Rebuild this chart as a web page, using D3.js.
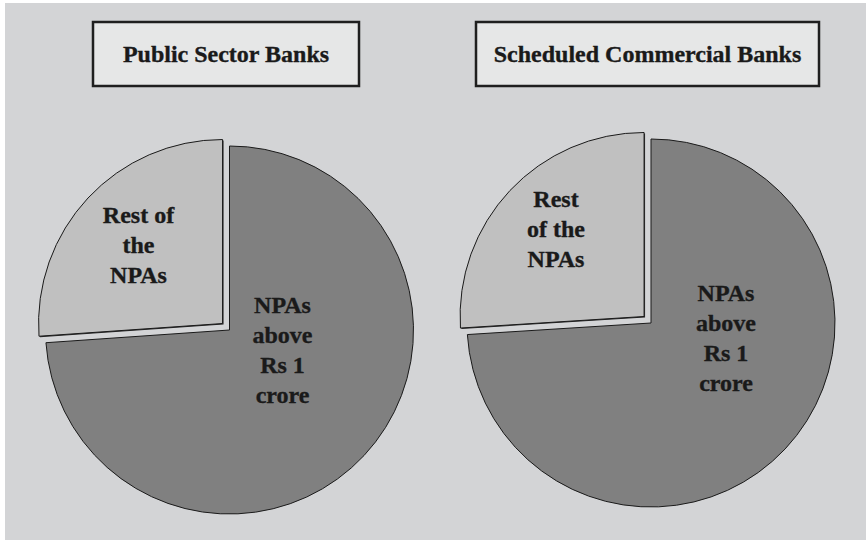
<!DOCTYPE html>
<html lang="en">
  <head>
    <meta charset="utf-8"/>
    <style>
      body {
        margin: 0;
        background: #fff;
      }
      .title,
      .slice-label {
        font-family: "Liberation Serif", "Times New Roman", Tinos, serif;
        font-weight: bold;
        font-size: 24px;
        fill: #1a1a1a;
        stroke: #1a1a1a;
        stroke-width: 0.35px;
      }
    </style>
    <script src="https://cdn.jsdelivr.net/npm/d3@7"></script>
  </head>
  <body>
    <script type="text/javascript">
      // data (share of gross NPAs, %)
      var bankGroups = ["Public Sector Banks", "Scheduled Commercial Banks"];
      var sliceNames = ["NPAs above Rs 1 crore", "Rest of the NPAs"];
      var psbShares = [73.9, 26.1];
      var scbShares = [74.0, 26.0];

      // how the labels break into lines
      var psbLabels = [["NPAs", "above", "Rs 1", "crore"], ["Rest of", "the", "NPAs"]];
      var scbLabels = [["NPAs", "above", "Rs 1", "crore"], ["Rest", "of the", "NPAs"]];

      var w = 866;
      var h = 540;
      var radius = 184;
      var explode = 9.5;
      var lineGap = 30;

      var svg = d3.select("body")
                  .append("svg")
                  .attr("width", w)
                  .attr("height", h);

      // grey panel
      svg.append("rect")
         .attr("x", 5)
         .attr("y", 3)
         .attr("width", w - 5)
         .attr("height", h - 3)
         .attr("fill", "#d3d4d6");

      var pies = [
        {title: bankGroups[0], values: psbShares, labels: psbLabels,
         cx: 229.5, cy: 330, box: [93, 22, 266, 64],
         labelPos: [[53, -17], [-91, -107]]},
        {title: bankGroups[1], values: scbShares, labels: scbLabels,
         cx: 651, cy: 323, box: [476, 22, 343, 64],
         labelPos: [[75, -22], [-95, -116]]}
      ];

      var colors = d3.scaleOrdinal()
                     .domain(sliceNames)
                     .range(["#808080", "#c0c0c0"]);

      var pie = d3.pie()
                  .sort(null)
                  .value(function(d) { return d; });

      var arc = d3.arc()
                  .innerRadius(0)
                  .outerRadius(radius);

      pies.forEach(function(p) {
        // title box
        svg.append("rect")
           .attr("x", p.box[0])
           .attr("y", p.box[1])
           .attr("width", p.box[2])
           .attr("height", p.box[3])
           .attr("fill", "#e6e7e7")
           .attr("stroke", "#1f1f1f")
           .attr("stroke-width", 2.5);

        svg.append("text")
           .attr("class", "title")
           .attr("x", p.box[0] + p.box[2] / 2)
           .attr("y", 62)
           .attr("text-anchor", "middle")
           .text(p.title);

        var g = svg.append("g")
                   .attr("transform", "translate(" + p.cx + "," + p.cy + ")");

        var arcs = pie(p.values);

        arcs.forEach(function(d, i) {
          // push the small slice out along its middle angle
          var mid = (d.startAngle + d.endAngle) / 2;
          var off = i === 1 ? explode : 0;
          var dx = Math.sin(mid) * off;
          var dy = -Math.cos(mid) * off;

          var sg = g.append("g")
                    .attr("transform", "translate(" + dx + "," + dy + ")");

          if (i === 1) {
            // small dark shadow on the pulled out slice
            sg.append("path")
              .attr("d", arc(d))
              .attr("transform", "translate(1,1)")
              .attr("fill", "#2a2a2a");
          }

          sg.append("path")
            .attr("d", arc(d))
            .attr("fill", colors(sliceNames[i]))
            .attr("stroke", "#1a1a1a")
            .attr("stroke-width", 1);

          var t = g.append("text")
                   .attr("class", "slice-label")
                   .attr("text-anchor", "middle");

          t.selectAll("tspan")
           .data(p.labels[i])
           .enter()
           .append("tspan")
           .attr("x", p.labelPos[i][0])
           .attr("y", function(line, j) { return p.labelPos[i][1] + j * lineGap; })
           .text(function(line) { return line; });
        });
      });
    </script>
  </body>
</html>
